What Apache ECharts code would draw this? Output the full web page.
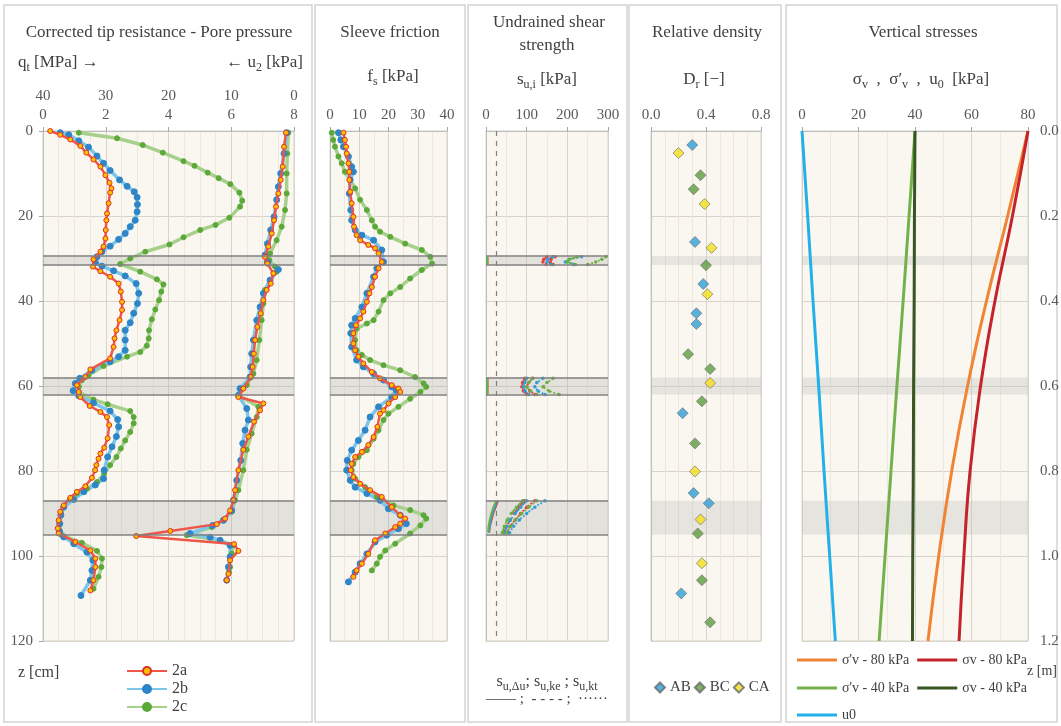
<!DOCTYPE html>
<html>
<head>
<meta charset="utf-8">
<script src="https://cdn.jsdelivr.net/npm/echarts/dist/echarts.min.js"></script>
<style>
  html, body { margin: 0; padding: 0; background: #fff; }
  #chart { width: 1061px; height: 726px; }
</style>
</head>
<body>
<div id="chart"></div>
<script>
// ---- corrected tip resistance qt [MPa] vs depth [cm]
const qt2aDepth = [0, 0.9, 2, 3.5, 5.1, 6.7, 8.4, 10.4, 12.2, 13.5, 14.5, 17, 19.4, 21, 23.3, 25.3, 27.2, 28.4, 30.2, 31.9, 33, 34.3, 35.9, 37.8, 40.2, 42.1, 44.5, 46.9, 48.8, 50.8, 53.5, 56.1, 57.9, 59.8, 61.4, 62.6, 64.7, 66.1, 67.3, 69.2, 72.3, 74.5, 75.9, 77.1, 78.6, 79.8, 81.6, 83.6, 84.9, 86.3, 88.1, 89.6, 91.6, 93.5, 94.7, 96.7, 98.7, 100.6, 102.6, 105.7, 108.1];
const qt2a = [0.23, 0.55, 0.87, 1.19, 1.38, 1.61, 1.83, 1.99, 2.12, 2.18, 2.14, 2.09, 2.04, 2.02, 2.0, 1.99, 1.93, 1.83, 1.61, 1.59, 1.83, 2.14, 2.41, 2.48, 2.52, 2.52, 2.44, 2.34, 2.28, 2.25, 2.14, 1.51, 1.35, 1.08, 1.14, 1.19, 1.49, 1.83, 2.04, 2.11, 2.06, 1.95, 1.83, 1.77, 1.7, 1.66, 1.56, 1.35, 1.08, 0.87, 0.66, 0.55, 0.5, 0.47, 0.5, 1.03, 1.51, 1.67, 1.67, 1.61, 1.51];
const qt2bDepth = [0.4, 0.9, 2.3, 3.8, 5.9, 7.6, 9.3, 11.5, 13, 14.3, 15.6, 17.3, 19, 21, 22.5, 24.1, 25.5, 27.1, 28.4, 29.6, 31, 31.8, 32.9, 34.1, 35.9, 38.2, 40.6, 42.9, 45.1, 46.9, 49.2, 51.6, 53.1, 54.3, 56.3, 58.2, 59.4, 61.1, 62.3, 64, 65.9, 67.9, 69.6, 71.9, 74.3, 76.7, 79.8, 81.8, 83.3, 84.9, 86.7, 88.5, 90.4, 92.4, 94.3, 95.5, 97.1, 99.1, 101, 103.4, 105.7, 109.3];
const qt2b = [0.55, 0.82, 1.14, 1.45, 1.72, 1.93, 2.14, 2.44, 2.68, 2.91, 3.0, 3.01, 3.0, 2.94, 2.78, 2.62, 2.41, 2.14, 1.88, 1.72, 1.67, 1.88, 2.25, 2.62, 2.97, 3.05, 3.01, 2.89, 2.78, 2.62, 2.62, 2.62, 2.41, 2.14, 1.56, 1.17, 1.03, 0.96, 1.14, 1.61, 2.14, 2.38, 2.41, 2.34, 2.2, 2.06, 1.95, 1.93, 1.67, 1.3, 0.98, 0.66, 0.57, 0.53, 0.53, 0.66, 0.98, 1.4, 1.59, 1.56, 1.51, 1.21];
const qt2cDepth = [0.4, 1.7, 3.3, 5.1, 7.1, 8.2, 9.8, 11.1, 12.5, 14.5, 16.4, 17.8, 20.4, 22.1, 23.3, 25, 26.7, 28.4, 30, 31.3, 33.1, 34.9, 36.1, 37.8, 39.8, 42, 44.3, 46.9, 48.8, 50.5, 52, 53.1, 55.3, 57.5, 58.6, 60.2, 61.4, 63.2, 64.3, 65.9, 67.3, 68.8, 70.8, 72.8, 74.7, 76.7, 78.6, 80.6, 82.6, 84.2, 85.3, 86.7, 88.5, 90, 92.4, 94, 95.1, 96.9, 98.8, 100.6, 102.6, 104.9, 107.7];
const qt2c = [1.14, 2.36, 3.18, 3.82, 4.48, 4.83, 5.25, 5.6, 5.97, 6.26, 6.35, 6.28, 5.94, 5.5, 5.01, 4.48, 4.03, 3.26, 2.78, 2.46, 3.1, 3.63, 3.84, 3.77, 3.7, 3.58, 3.47, 3.38, 3.37, 3.31, 3.1, 2.68, 1.93, 1.45, 1.24, 1.14, 1.14, 1.61, 2.06, 2.78, 2.89, 2.89, 2.78, 2.62, 2.48, 2.34, 2.14, 1.95, 1.72, 1.4, 1.08, 0.85, 0.66, 0.57, 0.55, 0.53, 0.6, 1.24, 1.72, 1.88, 1.86, 1.77, 1.61];

// ---- pore pressure u2 [kPa]
const u2aDepth = [0.4, 3.7, 8.4, 11.5, 14.7, 17.8, 21, 24.1, 27.2, 29.6, 31.2, 33.5, 35.9, 37.4, 39.8, 42.9, 46.1, 49.2, 52.4, 55.5, 57.9, 60.6, 62.6, 64.1, 65.7, 68.4, 71.9, 75, 79.8, 84.5, 86.9, 89.3, 91.2, 92.5, 94.1, 95.3, 97.2, 98.8, 101, 104.2, 105.7];
const u2a = [1.27, 1.59, 1.8, 2.12, 2.49, 2.87, 3.18, 3.55, 4.09, 4.62, 4.24, 3.29, 3.71, 4.35, 4.88, 5.31, 5.84, 6.21, 6.4, 6.6, 6.9, 8.07, 8.86, 4.88, 5.41, 6.37, 7.27, 8.07, 8.86, 9.39, 9.66, 10.19, 10.98, 12.31, 19.7, 25.15, 9.55, 8.86, 10.19, 10.45, 10.72];
const u2bDepth = [0.4, 5.3, 10, 13.1, 16.2, 20.2, 23.3, 26.5, 29.2, 30.8, 32.6, 35.1, 38.2, 41.4, 44.5, 49.2, 52.4, 55.5, 57.9, 60.6, 62.2, 65.3, 68, 70.4, 73.5, 77.5, 82.2, 86.9, 89.3, 91.6, 92.8, 94.7, 95.6, 96.3, 97.5, 100.2, 102.6, 105.7];
const u2b = [1.17, 1.59, 2.12, 2.49, 2.76, 3.18, 3.71, 4.24, 4.62, 4.24, 2.49, 3.82, 4.88, 5.41, 5.94, 6.47, 6.74, 6.9, 7.0, 8.6, 8.86, 7.53, 7.27, 7.8, 8.17, 8.49, 9.13, 9.66, 9.92, 11.25, 12.95, 16.56, 13.37, 11.78, 10.19, 10.19, 10.45, 10.72];
const u2cDepth = [0.4, 5.3, 10, 14.7, 18.6, 22.5, 25.7, 28.8, 30.4, 31.9, 33.1, 35.1, 37.4, 40.6, 44.5, 49.2, 53.9, 57.1, 59.8, 62.2, 64.9, 67.3, 71.2, 75, 79.8, 84.5, 86.9, 89.6, 91.6, 93.2, 95.1, 96.3, 97.5, 99.4, 102.6, 103.8];
const u2c = [0.9, 1.06, 1.17, 1.17, 1.43, 1.96, 2.76, 3.82, 3.93, 3.02, 2.76, 3.82, 4.62, 4.88, 5.15, 5.52, 5.94, 6.47, 7.53, 8.86, 5.68, 5.94, 6.74, 7.53, 8.07, 8.86, 9.39, 9.92, 11.25, 13.1, 17.08, 11.78, 9.66, 9.92, 10.19, 10.35];

// ---- sleeve friction fs [kPa]
const fs2aDepth = [0.4, 2.1, 3.7, 5.3, 7.6, 9.6, 11.5, 14.3, 17, 20.2, 22.5, 24.5, 25.7, 26.8, 27.6, 28.8, 30.8, 32.3, 34.3, 36.7, 38.2, 40.2, 42.5, 44.1, 45.7, 47.6, 50, 51.6, 53.1, 54.7, 56.7, 58.2, 59.8, 60.6, 61.4, 62.6, 64.1, 65.7, 66.5, 69.6, 72, 73.9, 75.5, 76.7, 78.3, 79.8, 81.4, 83, 84.5, 86.1, 88.5, 90.4, 91.2, 92.4, 93.2, 94.7, 96.3, 99.5, 101.8, 103.4, 104.9];
const fs2a = [4.6, 5.1, 5.5, 5.7, 6.3, 6.6, 6.6, 6.9, 7.4, 8, 8.2, 9.1, 10.3, 13.1, 15.4, 16.6, 17.7, 16.6, 15.4, 14.3, 13.5, 12.6, 11.4, 10.3, 8.9, 8, 8, 8.6, 9.7, 11.4, 14.3, 17.1, 21.1, 23.4, 24, 22.3, 20, 18.3, 17.1, 16.2, 14.9, 13.1, 10.9, 8.6, 7.4, 7.1, 8, 10.3, 13.7, 17.7, 21.1, 24, 25.7, 24, 22.3, 18.9, 15.4, 13.1, 10.9, 9.1, 8];
const fs2bDepth = [0.4, 2.1, 3.7, 6, 8.4, 9.6, 11.5, 14.7, 18.6, 21, 23.3, 24.5, 25.7, 28, 30.8, 32.3, 34.3, 38.2, 41.4, 44.1, 45.7, 47.6, 50.8, 53.9, 55.5, 57.1, 58.6, 60.2, 61, 62.6, 64.9, 67.3, 70.4, 72.8, 75.1, 77.5, 79.8, 82.2, 83.8, 85.3, 86.9, 88.9, 90.4, 92.4, 93.6, 95.1, 96.7, 99.5, 101.8, 103.8, 106.1];
const fs2b = [2.9, 3.7, 4.6, 6.3, 7.4, 8, 6.9, 6.6, 7.1, 7.4, 8.6, 10.9, 14.9, 17.7, 18.3, 16, 14.9, 12.6, 10.9, 8.6, 7.4, 7.1, 7.4, 9.1, 11.4, 14.9, 18.3, 21.1, 22.6, 21.1, 16.6, 13.7, 12, 9.7, 7.4, 5.9, 5.7, 6.9, 8.6, 12.6, 17.1, 20, 24, 26.1, 23.4, 19.4, 15.4, 12.6, 10.3, 8.6, 6.3];
const fs2cDepth = [0.4, 2.1, 3.7, 6, 7.6, 9.6, 11.5, 13.5, 16.2, 18.6, 21, 22.5, 23.7, 24.9, 26.5, 28, 29.6, 31.2, 32.7, 34.7, 36.7, 38.2, 39.8, 42.5, 44.5, 45.3, 46.5, 49.2, 51.6, 52.7, 53.9, 55.1, 56.3, 57.9, 59.4, 60.2, 61.4, 63, 64.9, 66.5, 68, 70.4, 72.4, 75.1, 76.7, 78.3, 79.8, 81.8, 83.8, 86.1, 88.1, 89.2, 90.4, 91.2, 92.8, 94.7, 97.1, 98.7, 100.2, 101.8, 103.4];
const fs2c = [0.6, 1.1, 1.7, 2.9, 4, 5.1, 6.9, 8.6, 10.3, 12.6, 14.3, 15.4, 17.1, 20.6, 25.7, 31.4, 34.3, 34.9, 31.4, 27.4, 24, 20.6, 18.3, 16.6, 14.9, 12.6, 9.1, 8.6, 9.1, 10.9, 13.7, 18.3, 24, 29.1, 32, 32.9, 30.9, 27.4, 23.4, 20, 18.3, 16.6, 14.9, 12.6, 9.7, 8, 7.4, 8.6, 12, 16, 21.7, 27.4, 32, 32.9, 30.9, 27.4, 22.3, 18.9, 17.1, 16, 14.3];

// ---- undrained shear strength su [kPa] (null = gap between layers)
const suDepth = [29.6, 30.2, 30.8, 31.4, null, 58.2, 59.2, 60.2, 61.2, 62, null, 87, 88.5, 90, 91.5, 93, 94.5];
const su2aDu = [4, 4, 4, 4, null, 4, 4, 4, 4, 4, null, 30, 24, 18, 14, 10, 8];
const su2aKe = [150, 142, 140, 148, null, 95, 90, 88, 92, 100, null, 95, 80, 70, 60, 50, 45];
const su2aKt = [170, 160, 158, 165, null, 115, 105, 100, 108, 120, null, 120, 100, 85, 72, 60, 52];
const su2bDu = [3, 3, 3, 3, null, 3, 3, 3, 3, 3, null, 28, 22, 16, 12, 9, 7];
const su2bKe = [165, 152, 150, 160, null, 100, 95, 92, 96, 105, null, 100, 85, 72, 60, 52, 45];
const su2bKt = [235, 205, 195, 215, null, 140, 125, 120, 128, 145, null, 145, 120, 100, 82, 68, 58];
const su2cDu = [3, 3, 3, 3, null, 3, 3, 3, 3, 3, null, 25, 18, 13, 9, 6, 5];
const su2cKe = [225, 205, 200, 220, null, 115, 105, 100, 110, 125, null, 90, 75, 62, 52, 45, 40];
const su2cKt = [295, 285, 270, 250, null, 165, 150, 140, 155, 180, null, 125, 105, 88, 72, 60, 50];
const suRef = 25;

// ---- relative density Dr [-]
const abDepth = [3.3, 26.1, 36, 42.9, 45.4, 66.4, 85.2, 87.6, 108.8];
const abDr = [0.30, 0.32, 0.38, 0.33, 0.33, 0.23, 0.31, 0.42, 0.22];
const bcDepth = [10.4, 13.7, 31.6, 52.5, 56, 63.6, 73.5, 94.7, 105.7, 115.6];
const bcDr = [0.36, 0.31, 0.40, 0.27, 0.43, 0.37, 0.32, 0.34, 0.37, 0.43];
const caDepth = [5.2, 17.2, 27.5, 38.4, 59.3, 80.1, 91.4, 101.7];
const caDr = [0.20, 0.39, 0.44, 0.41, 0.43, 0.32, 0.36, 0.37];

// ---- vertical stresses [kPa] vs depth [m]
const zM = [0, 0.2, 0.4, 0.6, 0.8, 1.0, 1.2];
const sigEff80 = [80, 72.8, 65.3, 58.6, 53.0, 48.4, 44.6];
const sigTot80 = [80, 74.5, 68.3, 63.2, 59.5, 57.3, 55.6];
const sigEff40 = [40, 37.9, 35.8, 33.6, 31.5, 29.4, 27.3];
const sigTot40 = [40, 39.8, 39.7, 39.5, 39.4, 39.2, 39.1];
const u0 = [0, 2.0, 3.9, 5.9, 7.8, 9.8, 11.8];

// ---- tested layers (cm)
const bandTop = [29.4, 58, 87];
const bandBot = [31.5, 62, 95];

const FONT = 'Liberation Serif';
const TXT = '#404040';
const chart = echarts.init(document.getElementById('chart'));

const pts = (xs, ys) => ys.map((d, i) => (d == null || xs[i] == null) ? '-' : [xs[i], d]);

const grids = [
  { left: 43, top: 131, width: 251, height: 510 },
  { left: 330, top: 131, width: 117, height: 510 },
  { left: 486, top: 131, width: 122, height: 510 },
  { left: 651, top: 131, width: 110, height: 510 },
  { left: 802, top: 131, width: 226, height: 510 }
].map(g => Object.assign(g, {
  show: true, backgroundColor: '#faf7f0', borderColor: '#d6d2ca', borderWidth: 1,
  containLabel: false, outerBoundsMode: 'none'
}));

function xAx(grid, max, interval, minor, extra) {
  return Object.assign({
    type: 'value', gridIndex: grid, position: 'top', min: 0, max: max, interval: interval,
    axisLine: { show: true, lineStyle: { color: '#bfbfbf' } },
    axisTick: { show: true, length: 4, lineStyle: { color: '#a6a6a6' } },
    axisLabel: { fontFamily: FONT, fontSize: 15, color: '#595959', margin: 8, hideOverlap: false, showMinLabel: true, showMaxLabel: true },
    splitLine: { show: true, lineStyle: { color: '#d9d4ca' } },
    minorTick: { show: false, splitNumber: minor },
    minorSplitLine: { show: true, lineStyle: { color: '#ede7dc' } }
  }, extra || {});
}
function yAx(grid, max, interval, extra) {
  return Object.assign({
    type: 'value', gridIndex: grid, inverse: true, min: 0, max: max, interval: interval,
    axisLine: { show: true, lineStyle: { color: '#bfbfbf' } },
    axisTick: { show: false },
    axisLabel: { show: false },
    splitLine: { show: true, lineStyle: { color: '#d9d4ca' } }
  }, extra || {});
}

const xAxes = [
  xAx(0, 8, 2, 4),
  xAx(0, 40, 10, 2, { inverse: true, offset: 19, axisLine: { show: false }, axisTick: { show: false }, splitLine: { show: false }, minorSplitLine: { show: false } }),
  xAx(1, 40, 10, 2),
  xAx(2, 300, 100, 2),
  xAx(3, 0.8, 0.4, 4, { axisLabel: { fontFamily: FONT, fontSize: 15, color: '#595959', margin: 8, formatter: v => v.toFixed(1) } }),
  xAx(4, 80, 20, 2)
];
const yAxes = [
  yAx(0, 120, 20, { axisTick: { show: true, length: 4, lineStyle: { color: '#a6a6a6' } },
    axisLabel: { show: true, fontFamily: FONT, fontSize: 15, color: '#595959', margin: 10 } }),
  yAx(1, 120, 20),
  yAx(2, 120, 20),
  yAx(3, 120, 20),
  yAx(4, 1.2, 0.2, { position: 'right', axisLine: { show: false },
    axisLabel: { show: true, fontFamily: FONT, fontSize: 15, color: '#595959', margin: 12, formatter: v => v.toFixed(1) } })
];

// styles of the three tests
const ST = {
  '2a': { line: '#ee5648', w: 2.5, size: 5, fill: '#ffc000', border: '#e0302a' },
  '2b': { line: '#7cc6ec', w: 3.5, size: 6, fill: '#2e86c8', border: '#2e86c8' },
  '2c': { line: '#a6d08b', w: 3.5, size: 5, fill: '#5ca93a', border: '#5ca93a' }
};

function cpt(name, xi, yi, xs, ys) {
  const s = ST[name];
  return {
    name: name, type: 'line', xAxisIndex: xi, yAxisIndex: yi, data: pts(xs, ys),
    symbol: 'circle', symbolSize: s.size, showSymbol: true,
    lineStyle: { color: s.line, width: s.w },
    itemStyle: { color: s.fill, borderColor: s.border, borderWidth: 1 },
    z: name === '2a' ? 4 : 3
  };
}

function bands(xi, yi, withLines, scale) {
  const f = scale || 1;
  const s = {
    name: 'band', type: 'line', xAxisIndex: xi, yAxisIndex: yi, data: [], silent: true, z: 1,
    markArea: {
      silent: true,
      itemStyle: { color: withLines ? 'rgba(170,170,170,0.28)' : 'rgba(185,185,185,0.3)' },
      data: bandTop.map((t, i) => [{ yAxis: t * f }, { yAxis: bandBot[i] * f }])
    }
  };
  if (withLines) {
    s.markLine = {
      silent: true, symbol: 'none', label: { show: false },
      lineStyle: { color: '#808080', type: 'solid', width: 1.5 },
      data: bandTop.concat(bandBot).map(v => ({ yAxis: v * f }))
    };
  }
  return s;
}

const SUCOL = { '2a': '#e8413a', '2b': '#2e9fd8', '2c': '#6bb043' };
function su(name, kind, xs) {
  return {
    name: 'su ' + kind + ' ' + name, type: 'line', xAxisIndex: 3, yAxisIndex: 2, data: pts(xs, suDepth),
    symbol: kind === 'du' ? 'none' : 'circle', symbolSize: 3.5, showSymbol: kind !== 'du',
    itemStyle: { color: SUCOL[name] },
    lineStyle: { color: SUCOL[name], width: 1.8, type: kind === 'du' ? 'solid' : (kind === 'ke' ? 'dashed' : 'dotted') }
  };
}

const DRCOL = { AB: '#2e9fd8', BC: '#5e9c3e', CA: '#f2df1b' };
function dr(name, xs, ys) {
  return {
    name: name, type: 'scatter', xAxisIndex: 4, yAxisIndex: 3, data: pts(xs, ys),
    symbol: 'diamond', symbolSize: 11,
    itemStyle: { color: DRCOL[name], borderColor: '#6b6b6b', borderWidth: 0.8 }
  };
}

function stress(name, color, vals, w) {
  return {
    name: name, type: 'line', xAxisIndex: 5, yAxisIndex: 4, data: pts(vals, zM),
    symbol: 'none', smooth: true, lineStyle: { color: color, width: w || 3 }, itemStyle: { color: color }
  };
}

const series = [
  bands(0, 0, true),
  cpt('2c', 0, 0, qt2c, qt2cDepth), cpt('2b', 0, 0, qt2b, qt2bDepth), cpt('2a', 0, 0, qt2a, qt2aDepth),
  cpt('2c', 1, 0, u2c, u2cDepth), cpt('2b', 1, 0, u2b, u2bDepth), cpt('2a', 1, 0, u2a, u2aDepth),
  bands(2, 1, true),
  cpt('2c', 2, 1, fs2c, fs2cDepth), cpt('2b', 2, 1, fs2b, fs2bDepth), cpt('2a', 2, 1, fs2a, fs2aDepth),
  Object.assign(bands(3, 2, true), {
    markLine: {
      silent: true, symbol: 'none', label: { show: false },
      data: bandTop.concat(bandBot).map(v => ({ yAxis: v, lineStyle: { color: '#808080', type: 'solid', width: 1.5 } }))
        .concat([{ xAxis: suRef, lineStyle: { color: '#7f7f7f', type: [5, 5], width: 1.2 } }])
    }
  }),
  su('2a', 'ke', su2aKe), su('2a', 'kt', su2aKt), su('2b', 'ke', su2bKe), su('2b', 'kt', su2bKt),
  su('2c', 'ke', su2cKe), su('2c', 'kt', su2cKt),
  su('2a', 'du', su2aDu), su('2b', 'du', su2bDu), su('2c', 'du', su2cDu),
  bands(4, 3, false),
  dr('AB', abDr, abDepth), dr('BC', bcDr, bcDepth), dr('CA', caDr, caDepth),
  bands(5, 4, false, 0.01),
  stress('u0', '#22b0e8', u0),
  stress("σ'v - 40 kPa", '#74b14a', sigEff40),
  stress('σv - 40 kPa', '#375623', sigTot40),
  stress("σ'v - 80 kPa", '#f08434', sigEff80),
  stress('σv - 80 kPa', '#c4232b', sigTot80)
];

const RICH = {
  s: { fontSize: 12, fontFamily: FONT, lineHeight: 12, verticalAlign: 'bottom', fill: TXT }
};
function txt(x, y, text, align, size) {
  return {
    type: 'text', x: x, y: y, silent: true,
    style: {
      text: text, align: align || 'center', verticalAlign: 'middle', fill: TXT,
      fontFamily: FONT, fontSize: size || 17, lineHeight: 22, rich: RICH
    }
  };
}
function box(x1, x2) {
  return { type: 'rect', shape: { x: x1, y: 5, width: x2 - x1, height: 717 }, silent: true,
    style: { fill: 'none', stroke: '#d4d4d4', lineWidth: 1.5 } };
}

const graphics = [
  box(4, 312), box(315, 465), box(468, 627), box(629, 781), box(786, 1057),
  txt(159, 33, 'Corrected tip resistance - Pore pressure'),
  txt(18, 63, 'q{s|t} [MPa] →', 'left'),
  txt(303, 63, '← u{s|2} [kPa]', 'right'),
  txt(390, 33, 'Sleeve friction'),
  txt(393, 77, 'f{s|s} [kPa]'),
  txt(549, 23, 'Undrained shear'),
  txt(547, 46, 'strength'),
  txt(547, 80, 's{s|u,i} [kPa]'),
  txt(707, 33, 'Relative density'),
  txt(704, 80, 'D{s|r} [−]'),
  txt(923, 33, 'Vertical stresses'),
  txt(921, 80, 'σ{s|v}  ,  σ′{s|v}  ,  u{s|0}  [kPa]'),
  txt(18, 673, 'z [cm]', 'left', 16),
  txt(1027, 671, 'z [m]', 'left', 14),
  txt(547, 682, 's{s|u,Δu}; s{s|u,ke} ; s{s|u,kt}', 'center', 16),
  txt(547, 699, '—— ;  - - - - ;  ······', 'center', 15)
];

const legText = { fontFamily: FONT, fontSize: 16, color: TXT };
const lineIcon = { icon: 'rect', itemWidth: 40, itemHeight: 3, itemGap: 8, selectedMode: false,
  textStyle: { fontFamily: FONT, fontSize: 14, color: TXT } };
const option = {
  animation: false,
  textStyle: { fontFamily: FONT },
  grid: grids,
  xAxis: xAxes,
  yAxis: yAxes,
  legend: [
    { data: ['2a', '2b', '2c'], orient: 'vertical', left: 121, top: 658, itemWidth: 40, itemHeight: 10,
      itemGap: 2, textStyle: legText, selectedMode: false },
    { data: ['AB', 'BC', 'CA'], orient: 'horizontal', left: 649, top: 675, itemWidth: 10, itemHeight: 10,
      itemGap: 3, textStyle: { fontFamily: FONT, fontSize: 15, color: TXT }, selectedMode: false },
    Object.assign({ data: ["σ'v - 80 kPa", 'σv - 80 kPa'], left: 792, top: 648 }, lineIcon),
    Object.assign({ data: ["σ'v - 40 kPa", 'σv - 40 kPa'], left: 792, top: 676 }, lineIcon),
    Object.assign({ data: ['u0'], left: 792, top: 703 }, lineIcon)
  ],
  graphic: graphics,
  series: series
};
chart.setOption(option);
</script>
</body>
</html>
